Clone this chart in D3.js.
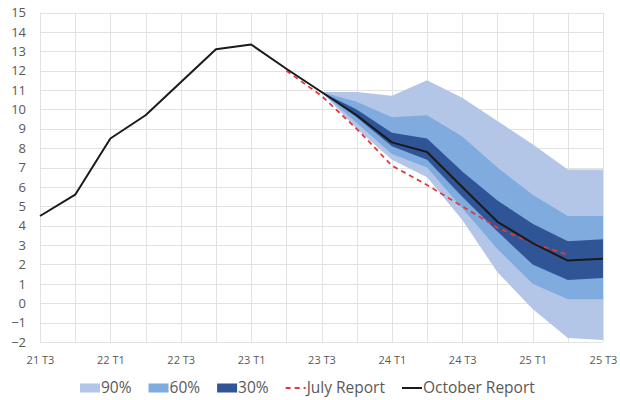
<!DOCTYPE html>
<html>
<head>
<meta charset="utf-8">
<script src="https://cdn.jsdelivr.net/npm/d3@7"></script>
<style>
  body { margin: 0; background: #fff; }
  svg { display: block; font-family: "Open Sans", sans-serif; }
</style>
</head>
<body>
<div id="frame"></div>
<script>
// quarters on the category axis
const quarters = ["21 T3", "21 T4", "22 T1", "22 T2", "22 T3", "22 T4", "23 T1", "23 T2", "23 T3",
  "23 T4", "24 T1", "24 T2", "24 T3", "24 T4", "25 T1", "25 T2", "25 T3"];
const tickLabels = ["21 T3", "22 T1", "22 T3", "23 T1", "23 T3", "24 T1", "24 T3", "25 T1", "25 T3"];
const yTicks = d3.range(-2, 16);

// October report (black) and July report (red dashed)
const october = [4.5, 5.6, 8.5, 9.7, 11.4, 13.1, 13.35, 12.1, 10.9, 9.7, 8.3, 7.8, 6.0, 4.2, 3.1, 2.2, 2.3];
const july = [null, null, null, null, null, null, null, 12.0, 10.7, 9.0, 7.1, 6.1, 5.0, 3.9, 3.1, 2.5, null];

// fan chart bands, from 23 T3 onwards
const fanQuarters = quarters.slice(8);
const band90Low = [10.9, 9.0, 7.4, 6.5, 4.3, 1.6, -0.3, -1.8, -1.9];
const band60Low = [10.9, 9.3, 7.7, 7.0, 4.9, 2.8, 1.0, 0.2, 0.2];
const band30Low = [10.9, 9.6, 8.1, 7.4, 5.5, 3.7, 2.0, 1.2, 1.3];
const band30High = [10.9, 10.0, 8.8, 8.5, 6.8, 5.3, 4.1, 3.2, 3.3];
const band60High = [10.9, 10.4, 9.6, 9.7, 8.6, 7.0, 5.6, 4.5, 4.5];
const band90High = [10.9, 10.9, 10.7, 11.5, 10.6, 9.4, 8.2, 6.9, 6.9];

const width = 620, height = 400;
const colors = { b90: "#b4c6e8", b60: "#80abde", b30: "#2f5597", july: "#e0393e", october: "#1a1a1a" };

const svg = d3.select("#frame").append("svg")
  .attr("width", width)
  .attr("height", height);

const x = d3.scalePoint().domain(quarters).range([40, 603]);
const y = d3.scaleLinear().domain([-2, 15]).range([342, 12.5]);

// gridlines
const grid = svg.append("g").attr("stroke", "#e2e2e2").attr("stroke-width", 1);
grid.selectAll("line.h").data(yTicks).join("line")
  .attr("class", "h")
  .attr("x1", x.range()[0]).attr("x2", x.range()[1])
  .attr("y1", (d) => Math.round(y(d)) + 0.5).attr("y2", (d) => Math.round(y(d)) + 0.5);
grid.selectAll("line.v").data(quarters).join("line")
  .attr("class", "v")
  .attr("x1", (d) => Math.round(x(d)) + 0.5).attr("x2", (d) => Math.round(x(d)) + 0.5)
  .attr("y1", y(15)).attr("y2", y(-2));

// fan bands
const bands = [
  { lo: band90Low, hi: band90High, fill: colors.b90 },
  { lo: band60Low, hi: band60High, fill: colors.b60 },
  { lo: band30Low, hi: band30High, fill: colors.b30 },
];
const area = (lo, hi) => d3.area()
  .x((d, i) => x(fanQuarters[i]))
  .y0((d, i) => y(lo[i]))
  .y1((d, i) => y(hi[i]));
svg.append("g").selectAll("path").data(bands).join("path")
  .attr("fill", (d) => d.fill)
  .attr("d", (d) => area(d.lo, d.hi)(fanQuarters));

// lines
const line = d3.line()
  .defined((d) => d != null)
  .x((d, i) => x(quarters[i]))
  .y((d) => y(d));
svg.append("path")
  .attr("fill", "none")
  .attr("stroke", colors.july)
  .attr("stroke-width", 1.8)
  .attr("stroke-dasharray", "5,4")
  .attr("d", line(july));
svg.append("path")
  .attr("fill", "none")
  .attr("stroke", colors.october)
  .attr("stroke-width", 2)
  .attr("stroke-linejoin", "round")
  .attr("d", line(october));

// axes
const yAxis = svg.append("g")
  .attr("transform", "translate(26,0)")
  .call(d3.axisLeft(y).tickValues(yTicks).tickSize(0).tickPadding(0).tickFormat(d3.format("d")));
yAxis.select(".domain").remove();
yAxis.selectAll("text").attr("font-size", 13).attr("fill", "#595959").attr("font-family", "Open Sans");

const xAxis = svg.append("g")
  .attr("transform", "translate(0,352)")
  .call(d3.axisBottom(x).tickValues(tickLabels).tickSize(0).tickPadding(4));
xAxis.select(".domain").remove();
xAxis.selectAll("text").attr("font-size", 11).attr("fill", "#595959").attr("font-family", "Open Sans");

// legend
const legendItems = [
  { label: "90%", type: "rect", color: colors.b90 },
  { label: "60%", type: "rect", color: colors.b60 },
  { label: "30%", type: "rect", color: colors.b30 },
  { label: "July Report", type: "dash", color: colors.july },
  { label: "October Report", type: "line", color: colors.october },
];
const legend = svg.append("g").attr("transform", "translate(80,388)");
let lx = 0;
legendItems.forEach((item) => {
  const g = legend.append("g").attr("transform", `translate(${lx},0)`);
  if (item.type === "rect") {
    g.append("rect").attr("x", 0).attr("y", -4.5).attr("width", 20).attr("height", 9).attr("fill", item.color);
  } else {
    g.append("line").attr("x1", 0).attr("x2", 20).attr("y1", 0).attr("y2", 0)
      .attr("stroke", item.color).attr("stroke-width", 2)
      .attr("stroke-dasharray", item.type === "dash" ? "5,4" : null);
  }
  const t = g.append("text")
    .attr("x", 21).attr("y", 0).attr("dy", "0.35em")
    .attr("font-size", 15.5).attr("fill", "#595959")
    .text(item.label);
  lx += 21 + t.node().getComputedTextLength() + 17;
});
</script>
</body>
</html>
